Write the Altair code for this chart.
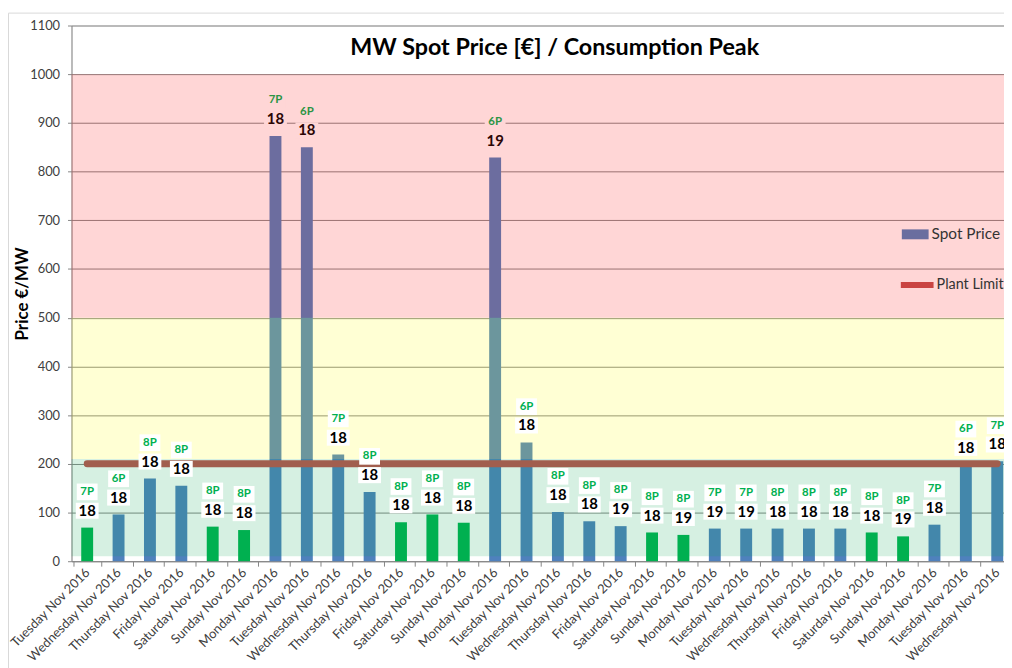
import altair as alt
import pandas as pd

# ---------------- data ----------------
days = [
    "Tuesday Nov 2016", "Wednesday Nov 2016", "Thursday Nov 2016", "Friday Nov 2016",
    "Saturday Nov 2016", "Sunday Nov 2016", "Monday Nov 2016", "Tuesday Nov 2016",
    "Wednesday Nov 2016", "Thursday Nov 2016", "Friday Nov 2016", "Saturday Nov 2016",
    "Sunday Nov 2016", "Monday Nov 2016", "Tuesday Nov 2016", "Wednesday Nov 2016",
    "Thursday Nov 2016", "Friday Nov 2016", "Saturday Nov 2016", "Sunday Nov 2016",
    "Monday Nov 2016", "Tuesday Nov 2016", "Wednesday Nov 2016", "Thursday Nov 2016",
    "Friday Nov 2016", "Saturday Nov 2016", "Sunday Nov 2016", "Monday Nov 2016",
    "Tuesday Nov 2016", "Wednesday Nov 2016",
]
spot_price = [69, 96, 170, 155, 71, 64, 873, 850, 219, 142,
              80, 96, 79, 829, 244, 101, 82, 72, 59, 54,
              67, 67, 67, 67, 67, 59, 51, 75, 198, 205]
peak_hour = [18, 18, 18, 18, 18, 18, 18, 18, 18, 18,
             18, 18, 18, 19, 18, 18, 18, 19, 18, 19,
             19, 19, 18, 18, 18, 18, 19, 18, 18, 18]
peak_slot = ["7P", "6P", "8P", "8P", "8P", "8P", "7P", "6P", "7P", "8P",
             "8P", "8P", "8P", "6P", "6P", "8P", "8P", "8P", "8P", "8P",
             "7P", "7P", "8P", "8P", "8P", "8P", "8P", "7P", "6P", "7P"]
bar_group = ["G", "B", "B", "B", "G", "G", "B", "B", "B", "B",
             "G", "G", "G", "B", "B", "B", "B", "B", "G", "G",
             "B", "B", "B", "B", "B", "G", "G", "B", "B", "B"]
plant_limit = [200, 200, 200, 200, 200, 200, 200, 200, 200, 200,
               200, 200, 200, 200, 200, 200, 200, 200, 200, 200,
               200, 200, 200, 200, 200, 200, 200, 200, 200, 200]
zone_names = ["Low", "Medium", "High"]
zone_low = [10, 210, 500]
zone_high = [210, 500, 1000]
y_ticks = [0, 100, 200, 300, 400, 500, 600, 700, 800, 900, 1000, 1100]
legend_spot = ["Spot Price"]
legend_limit = ["Plant Limit"]
title_text = "MW Spot Price [€] / Consumption Peak"
y_title = "Price  €/MW"

# ---------------- tables ----------------
idx = list(range(len(days)))
df = pd.DataFrame({
    "idx": idx, "day": days, "spot": spot_price, "hour": peak_hour,
    "slot": peak_slot, "group": bar_group, "limit": plant_limit,
    "series": legend_spot * len(days), "limit_series": legend_limit * len(days),
})
zones = pd.DataFrame({"zone": zone_names, "low": zone_low, "high": zone_high})

FONT = "Lato"
AX = "#868686"
label_expr = "[" + ",".join("'%s'" % d for d in days) + "][datum.value]"

x_axis = alt.Axis(title=None, labelExpr=label_expr, labelAngle=-45, labelAlign="right",
                  labelBaseline="middle", labelFont=FONT, labelFontSize=13,
                  labelColor="#404040", tickBand="extent", tickSize=5, tickColor=AX,
                  domainColor=AX, labelPadding=4, grid=False)
x_enc = alt.X("idx:O", scale=alt.Scale(domain=idx, range=[0, 949]), axis=x_axis)

y_axis = alt.Axis(title=y_title, values=y_ticks, format="d", labelFont=FONT,
                  labelFontSize=13, labelColor="#404040", tickColor=AX, domainColor=AX,
                  gridColor=AX, tickSize=4, labelPadding=8, titleFont=FONT,
                  titleFontSize=17, titleFontWeight="bold", titleColor="black",
                  titlePadding=-2, grid=True)
y_scale = alt.Scale(domain=[0, 1100], nice=False)


def yq(field):
    return alt.Y(field, scale=y_scale, axis=y_axis, title=y_title)


empty = "datum.idx < 0"

blue = alt.Chart(df).transform_filter("datum.group == 'B'").mark_bar(
    size=12, color="#4F81BD").encode(x=x_enc, y=yq("spot:Q"))

spot_legend = alt.Chart(df).transform_filter(empty).mark_bar(size=12).encode(
    x=x_enc, y=yq("spot:Q"),
    fill=alt.Fill("series:N", scale=alt.Scale(domain=legend_spot, range=["#6A6E9F"]),
                  legend=alt.Legend(title=None, orient="none", legendX=837, legendY=197,
                                    symbolType="M-1,-0.37H1V0.37H-1Z", symbolSize=729,
                                    symbolStrokeWidth=0,
                                    labelFont=FONT, labelFontSize=15.5, labelColor="#333333",
                                    labelOffset=3)),
)

line = alt.Chart(df).mark_line(strokeWidth=7, strokeCap="round", color="#C0504D").encode(
    x=x_enc, y=yq("limit:Q"))

limit_legend = alt.Chart(df).transform_filter(empty).mark_line(
    strokeWidth=6, strokeCap="round").encode(
    x=x_enc, y=yq("limit:Q"),
    stroke=alt.Stroke("limit_series:N",
                      scale=alt.Scale(domain=legend_limit, range=["#CA4442"]),
                      legend=alt.Legend(title=None, orient="none", legendX=833, legendY=242,
                                        symbolType="stroke", symbolSize=1089,
                                        symbolStrokeWidth=6,
                                        labelFont=FONT, labelFontSize=14.5,
                                        labelColor="#333333", labelOffset=0)),
)

bands = alt.Chart(zones).mark_rect(opacity=0.17).encode(
    y=yq("low:Q"), y2="high:Q",
    color=alt.Color("zone:N", scale=alt.Scale(domain=zone_names,
                                              range=["#0EA754", "#FFFF00", "#FF0E0E"]),
                    legend=None),
)

green = alt.Chart(df).transform_filter("datum.group == 'G'").mark_bar(
    size=12, color="#00B050").encode(x=x_enc, y=yq("spot:Q"))

hot = "datum.spot > 500"
box_num = alt.Chart(df).mark_point(
    shape="M-1,-0.7H1V0.7H-1Z", filled=True, size=529, yOffset=-17, opacity=1,
    strokeWidth=0).encode(
    x=x_enc, y=yq("spot:Q"),
    color=alt.condition(hot, alt.value("#FFD6D6"), alt.value("white")))
box_slot = alt.Chart(df).mark_point(
    shape="M-1,-0.8H1V0.8H-1Z", filled=True, size=441, yOffset=-36, opacity=1,
    strokeWidth=0).encode(
    x=x_enc, y=yq("spot:Q"),
    color=alt.condition(hot, alt.value("#FFD6D6"), alt.value("white")))
text_num = alt.Chart(df).mark_text(font=FONT, fontSize=15, fontWeight="bold", dy=-17).encode(
    x=x_enc, y=yq("spot:Q"), text="hour:N",
    color=alt.condition(hot, alt.value("#2B0505"), alt.value("#000000")))
text_slot = alt.Chart(df).mark_text(font=FONT, fontSize=11.5, fontWeight="bold", dy=-36).encode(
    x=x_enc, y=yq("spot:Q"), text="slot:N",
    color=alt.condition(hot, alt.value("#2B9444"), alt.value("#00B050")))

frame = alt.Chart(pd.DataFrame({"a": [0]})).mark_rect(
    fill=None, stroke="#D9D9D9", strokeWidth=1).encode(
    x=alt.value(-63.5), x2=alt.value(1000), y=alt.value(-12.5), y2=alt.value(700))

chart = alt.layer(
    blue, spot_legend, line, limit_legend, bands, green,
    box_num, box_slot, text_num, text_slot, frame
).resolve_scale(
    color="independent", fill="independent", stroke="independent"
).properties(
    width=940, height=540,
    title=alt.TitleParams(text=title_text, font=FONT, fontSize=23.5, fontWeight="bold",
                          color="black", anchor="middle", offset=-47.5, dx=17),
    autosize=alt.AutoSizeParams(type="none"),
    padding={"left": 64, "top": 15, "right": 0, "bottom": 105},
).configure_view(stroke=None).configure(background="white")

chart.save("out.html", embed_options={"renderer": "svg", "actions": False})
